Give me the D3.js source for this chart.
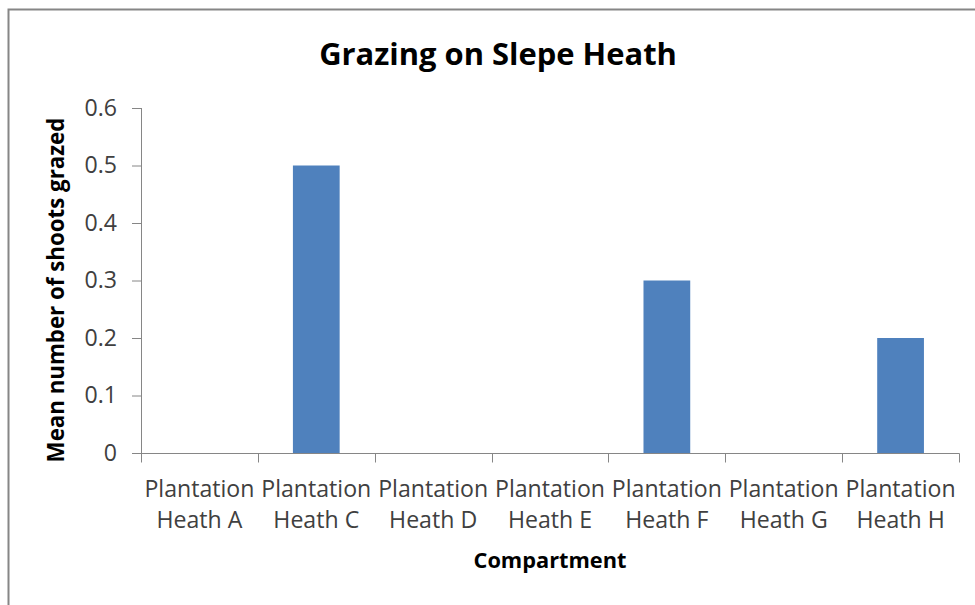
<!DOCTYPE html>
<html><head><meta charset="utf-8">
<script src="https://cdn.jsdelivr.net/npm/d3@7"></script>
<style>body{margin:0;background:#fff}svg{display:block}</style>
</head><body>
<svg id="c" width="975" height="605"></svg>
<script>
const categories = ["Plantation Heath A","Plantation Heath C","Plantation Heath D","Plantation Heath E","Plantation Heath F","Plantation Heath G","Plantation Heath H"];
const values = [0, 0.5, 0, 0, 0.3, 0, 0.2];
const yTicks = [0, 0.1, 0.2, 0.3, 0.4, 0.5, 0.6];
const title = "Grazing on Slepe Heath";
const yTitle = "Mean number of shoots grazed";
const xTitle = "Compartment";

const svg = d3.select("#c");
const FONT = "'Open Sans', sans-serif";
const pLeft = 141, pRight = 959, pTop = 108, pBottom = 453;

function fit(sel, target) {
  const w = sel.node().getComputedTextLength();
  const fs = parseFloat(sel.attr("font-size"));
  sel.attr("font-size", fs * target / w);
}

svg.append("rect").attr("x", 8.5).attr("y", 9.5).attr("width", 1200).attr("height", 1200)
  .attr("fill", "#fff").attr("stroke", "#868686").attr("stroke-width", 2);

const x = d3.scaleBand().domain(categories).range([pLeft, pRight]).paddingInner(0.6).paddingOuter(0.3);
const xOuter = d3.scaleBand().domain(categories).range([pLeft, pRight]);
const y = d3.scaleLinear().domain([0, 0.6]).range([pBottom, pTop]);

// y axis
const yAxis = svg.append("g").attr("transform", `translate(${pLeft},0)`)
  .call(d3.axisLeft(y).tickValues(yTicks).tickSize(9).tickPadding(15).tickFormat(d => d === 0 ? "0" : d3.format(".1f")(d)));
yAxis.select(".domain").attr("stroke", "#868686").attr("d", `M0.5,${pTop}V${pBottom}`);
yAxis.selectAll(".tick line").attr("stroke", "#868686");
yAxis.selectAll(".tick text").attr("font-family", FONT).attr("font-size", 20).attr("fill", "#404040");

// bars
svg.append("g").selectAll("rect").data(values).join("rect")
  .attr("x", (d, i) => x(categories[i]))
  .attr("width", x.bandwidth())
  .attr("y", d => y(d))
  .attr("height", d => y(0) - y(d))
  .attr("fill", "#4F81BD");

// x axis
const xg = svg.append("g").attr("transform", `translate(0,${pBottom + 0.5})`);
xg.append("line").attr("x1", pLeft).attr("x2", pRight + 0.5).attr("stroke", "#868686");
const bounds = categories.map(c => xOuter(c)).concat([pRight]);
xg.selectAll("line.tk").data(bounds).join("line").attr("class", "tk")
  .attr("x1", d => Math.round(d) + 0.5).attr("x2", d => Math.round(d) + 0.5)
  .attr("y1", 0).attr("y2", 9).attr("stroke", "#868686");

const lab = svg.append("g");
categories.forEach(c => {
  const cx = xOuter(c) + xOuter.bandwidth() / 2;
  const parts = c.split(" ");
  const l1 = parts[0], l2 = parts.slice(1).join(" ");
  lab.append("text").attr("x", cx).attr("y", 497).attr("text-anchor", "middle")
    .attr("font-family", FONT).attr("font-size", 20).attr("fill", "#404040").text(l1);
  lab.append("text").attr("x", cx).attr("y", 528).attr("text-anchor", "middle")
    .attr("font-family", FONT).attr("font-size", 20).attr("fill", "#404040").text(l2);
});
fit(lab.select("text"), 110);
const pfs = lab.select("text").attr("font-size");
lab.selectAll("text").attr("font-size", pfs);
yAxis.selectAll(".tick text").attr("font-size", pfs);

// titles
const tt = svg.append("text").attr("x", 498).attr("y", 65).attr("text-anchor", "middle")
  .attr("font-family", FONT).attr("font-weight", "bold").attr("font-size", 28).attr("fill", "#000").text(title);
fit(tt, 358);

const xt = svg.append("text").attr("x", 550).attr("y", 568).attr("text-anchor", "middle")
  .attr("font-family", FONT).attr("font-weight", "bold").attr("font-size", 20).attr("fill", "#000").text(xTitle);
fit(xt, 153);

const yt = svg.append("text").attr("transform", "translate(64,290) rotate(-90)").attr("text-anchor", "middle")
  .attr("font-family", FONT).attr("font-weight", "bold").attr("font-size", 20).attr("fill", "#000").text(yTitle);
fit(yt, 345);
</script>
</body></html>
